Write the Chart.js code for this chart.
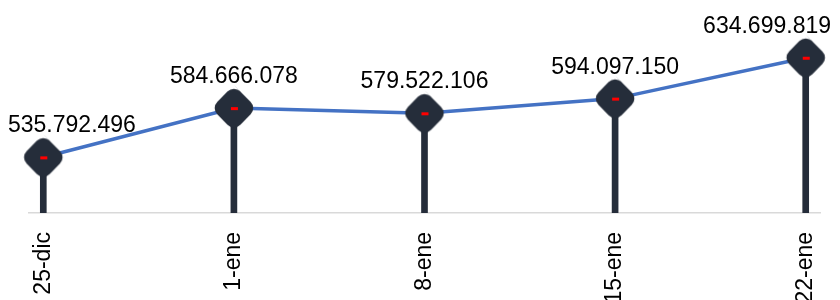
<!DOCTYPE html>
<html>
<head>
<meta charset="utf-8">
<script src="https://cdn.jsdelivr.net/npm/chart.js@4.4.1/dist/chart.umd.min.js"></script>
<style>
	html, body { margin: 0; padding: 0; background: #fff; }
	#wrap { width: 840px; height: 300px; position: relative; }
</style>
</head>
<body>
<div id="wrap"><canvas id="lineChart"></canvas></div>
<script>
// data
const categories = ['25-dic', '1-ene', '8-ene', '15-ene', '22-ene'];
const amounts = [535792496, 584666078, 579522106, 594097150, 634699819];
const valueLabels = ['535.792.496', '584.666.078', '579.522.106', '594.097.150', '634.699.819'];

const DARK = '#252d3a';
const BLUE = '#4472c4';

// rounded diamond marker with the small red dash in the middle
function makeMarker() {
	const c = document.createElement('canvas');
	c.width = 48;
	c.height = 48;
	const ctx = c.getContext('2d');
	const r = 9;
	ctx.fillStyle = DARK;
	ctx.beginPath();
	ctx.moveTo(24, 1);
	ctx.arcTo(47, 24, 24, 47, r);
	ctx.arcTo(24, 47, 1, 24, r);
	ctx.arcTo(1, 24, 24, 1, r);
	ctx.arcTo(24, 1, 47, 24, r);
	ctx.closePath();
	ctx.fill();
	ctx.fillStyle = '#ff0000';
	ctx.fillRect(21, 23, 7, 3);
	return c;
}

const points = amounts.map((v, i) => ({ x: i, y: v }));

// value labels above the points, kept inside the canvas
const valueLabelPlugin = {
	id: 'valueLabels',
	afterDatasetsDraw(chart) {
		const ctx = chart.ctx;
		const meta = chart.getDatasetMeta(0);
		ctx.save();
		ctx.font = '23px "Liberation Sans", Arial, sans-serif';
		ctx.fillStyle = '#000';
		ctx.textBaseline = 'alphabetic';
		ctx.textAlign = 'left';
		meta.data.forEach((pt, i) => {
			const text = valueLabels[i];
			const w = ctx.measureText(text).width;
			let left = pt.x - w / 2;
			if (left < 8) left = 8;
			if (left + w > 831) left = 831 - w;
			ctx.fillText(text, left, pt.y - 25);
		});
		ctx.restore();
	}
};

const config = {
	type: 'line',
	data: {
		datasets: [
			{
				type: 'line',
				data: points,
				borderColor: BLUE,
				borderWidth: 3.5,
				pointStyle: makeMarker(),
				pointRadius: 19,
				pointHoverRadius: 19,
				tension: 0,
				clip: false,
				order: 0
			},
			{
				type: 'bar',
				data: points,
				backgroundColor: DARK,
				barThickness: 6,
				order: 1
			}
		]
	},
	options: {
		responsive: true,
		maintainAspectRatio: false,
		animation: false,
		events: [],
		layout: { autoPadding: false, padding: { left: 29, right: 20, top: 0, bottom: 0 } },
		plugins: {
			legend: { display: false },
			tooltip: { enabled: false }
		},
		scales: {
			x: {
				type: 'linear',
				offset: false,
				min: -0.075,
				max: 4.075,
				grid: { drawOnChartArea: false, drawTicks: false, offset: false },
				border: { color: '#d9d9d9', width: 1.5 },
				afterFit(scale) {
					scale.height = 87;
					scale.paddingLeft = 0;
					scale.paddingRight = 0;
				},
				ticks: {
					stepSize: 1,
					includeBounds: false,
					autoSkip: false,
					maxRotation: 90,
					minRotation: 90,
					padding: 19,
					color: '#000',
					font: { family: '"Liberation Sans", Arial, sans-serif', size: 23 },
					callback(v) {
						return Number.isInteger(v) ? categories[v] : null;
					}
				}
			},
			y: {
				display: false,
				min: 480500000,
				max: 692000000
			}
		}
	},
	plugins: [valueLabelPlugin]
};

new Chart(document.getElementById('lineChart'), config);
</script>
</body>
</html>
